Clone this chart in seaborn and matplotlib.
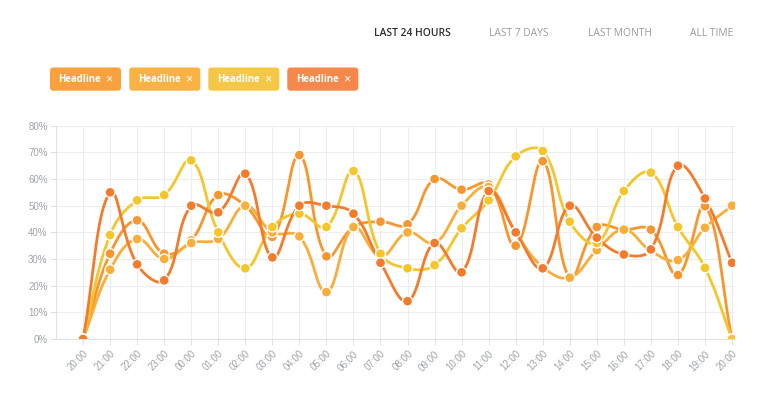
import numpy as np
import pandas as pd
import matplotlib.pyplot as plt
import matplotlib.transforms as mtrans
from matplotlib.patches import FancyBboxPatch
import seaborn as sns

# -------------------------------
# DATA
# -------------------------------
hours = ["20:00", "21:00", "22:00", "23:00", "00:00", "01:00", "02:00", "03:00",
         "04:00", "05:00", "06:00", "07:00", "08:00", "09:00", "10:00", "11:00",
         "12:00", "13:00", "14:00", "15:00", "16:00", "17:00", "18:00", "19:00",
         "20:00"]

orange = [0, 32, 44.5, 32, 37, 54, 50, 38.3, 69, 31, 42, 44, 43, 60, 56, 58,
          35, 66.7, 23, 42, 41, 41, 24, 49.8, 0]
light = [0, 26, 37.5, 30, 36, 37.5, 50, 40, 38.5, 17.6, 42, 31, 40, 36, 50, 57,
         40, 27, 23, 33.3, 41, 33, 29.6, 41.7, 50]
yellow = [0, 39, 52, 54, 67, 40, 26.5, 42, 47, 42, 63, 32, 26.5, 27.7, 41.5, 52,
          68.5, 70.5, 44, 36, 55.5, 62.4, 42, 26.7, 0]
dark = [0, 55, 28, 22, 50, 47.5, 62, 30.6, 50, 50, 47, 28.6, 14.2, 36, 25, 55.5,
        40, 26.5, 50, 38, 31.7, 33.6, 65, 52.7, 28.6]

series = {"s1": orange, "s2": light, "s3": yellow, "s4": dark}
line_colors = {"s1": "#F7962E", "s2": "#F9AD3A", "s3": "#F5C52C", "s4": "#F47A2C"}
chip_colors = ["#F8A13D", "#F9B243", "#F4C845", "#F5884A"]

tabs = ["LAST 24 HOURS", "LAST 7 DAYS", "LAST MONTH", "ALL TIME"]
yticks = [0, 10, 20, 30, 40, 50, 60, 70, 80]


# chart.js-like bezier smoothing of the drawn line (tension 0.4)
def smooth(ys, t=0.4, sx=27.04, sy=2.67, n=30):
    ys = np.asarray(ys, float)
    xs = np.arange(len(ys), dtype=float)
    P = np.column_stack([xs * sx, ys * sy])
    m = len(P)
    cprev = np.zeros_like(P)
    cnext = np.zeros_like(P)
    for i in range(m):
        p0 = P[max(i - 1, 0)]
        p1 = P[i]
        p2 = P[min(i + 1, m - 1)]
        d01 = np.hypot(*(p1 - p0))
        d12 = np.hypot(*(p2 - p1))
        tot = d01 + d12
        s01 = d01 / tot if tot else 0
        s12 = d12 / tot if tot else 0
        cprev[i] = p1 - t * s01 * (p2 - p0)
        cnext[i] = p1 + t * s12 * (p2 - p0)
    out = []
    u = np.linspace(0, 1, n)[:, None]
    for i in range(m - 1):
        a, b, c, d = P[i], cnext[i], cprev[i + 1], P[i + 1]
        seg = ((1 - u) ** 3) * a + 3 * ((1 - u) ** 2) * u * b + 3 * (1 - u) * u ** 2 * c + u ** 3 * d
        out.append(seg if i == 0 else seg[1:])
    out = np.vstack(out)
    return out[:, 0] / sx, out[:, 1] / sy


curve_rows = []
point_rows = []
for name, vals in series.items():
    cx, cy = smooth(vals)
    curve_rows.append(pd.DataFrame({"x": cx, "y": cy, "series": name}))
    point_rows.append(pd.DataFrame({"x": np.arange(len(vals)), "y": vals, "series": name}))
curves = pd.concat(curve_rows, ignore_index=True)
points = pd.concat(point_rows, ignore_index=True)

# -------------------------------
# FIGURE
# -------------------------------
sns.set_theme(style="white")
plt.rcParams["font.family"] = ["Liberation Sans", "DejaVu Sans"]

fig = plt.figure(figsize=(7.66, 3.97), dpi=100)

# overlay for header tabs and chips (pixel coords)
over = fig.add_axes([0, 0, 1, 1])
over.set_xlim(0, 766)
over.set_ylim(397, 0)
over.set_axis_off()
over.patch.set_alpha(0)

tab_centers = [412, 519, 620, 712]
for i, (lab, cxp) in enumerate(zip(tabs, tab_centers)):
    over.text(cxp, 33.5, lab, ha="center", va="center", fontsize=7.4,
              family=["Open Sans", "DejaVu Sans"],
              color="#2e2e2e" if i == 0 else "#979ba3",
              fontweight="semibold" if i == 0 else "normal")

chip_left = [50, 129.3, 208.3, 287.3]
for cl, col in zip(chip_left, chip_colors):
    over.add_patch(FancyBboxPatch((cl, 67.5), 71, 23.2,
                                  boxstyle="round,pad=0,rounding_size=3",
                                  fc=col, ec="none"))
    over.text(cl + 8.5, 79.5, "Headline", ha="left", va="center", fontsize=6.9,
              family=["Open Sans", "DejaVu Sans"], fontweight="bold", color="white")
    over.text(cl + 59, 79.3, "×", ha="center", va="center", fontsize=9,
              color="white")

# main chart
ax = fig.add_axes([56 / 766, (397 - 339) / 397, (735 - 56) / 766, (339 - 125.7) / 397])
ax.patch.set_alpha(0)

sns.lineplot(data=curves, x="x", y="y", hue="series", palette=line_colors,
             sort=False, estimator=None, linewidth=2.0, legend=False, ax=ax)
sns.scatterplot(data=points, x="x", y="y", hue="series", palette=line_colors,
                s=52, edgecolor="white", linewidth=1.0, legend=False, ax=ax, zorder=3)

ax.set_xlim(-1, 24.11)
ax.set_ylim(0, 80)
ax.set_xticks(range(len(hours)))
ax.set_xticklabels(hours, rotation=45, ha="right", va="top", rotation_mode="anchor")
shift = mtrans.ScaledTranslation(-4 / 100, 0, fig.dpi_scale_trans)
for lbl in ax.get_xticklabels():
    lbl.set_transform(lbl.get_transform() + shift)
ax.set_yticks(yticks)
ax.set_yticklabels([f"{v}%" for v in yticks])
ax.set_xlabel("")
ax.set_ylabel("")

ax.grid(True, color="#ededed", linewidth=0.8)
ax.set_axisbelow(True)
for s in ["top", "right"]:
    ax.spines[s].set_visible(False)
for s in ["left", "bottom"]:
    ax.spines[s].set_color("#e2e2e2")
    ax.spines[s].set_linewidth(0.8)
ax.tick_params(axis="both", length=4, width=0.8, color="#e2e2e2",
               labelcolor="#9fa3aa", labelsize=7, left=True, bottom=True)
ax.tick_params(axis="x", pad=3)
ax.tick_params(axis="y", pad=2)

fig.savefig("out.png", dpi=100, facecolor="white")
